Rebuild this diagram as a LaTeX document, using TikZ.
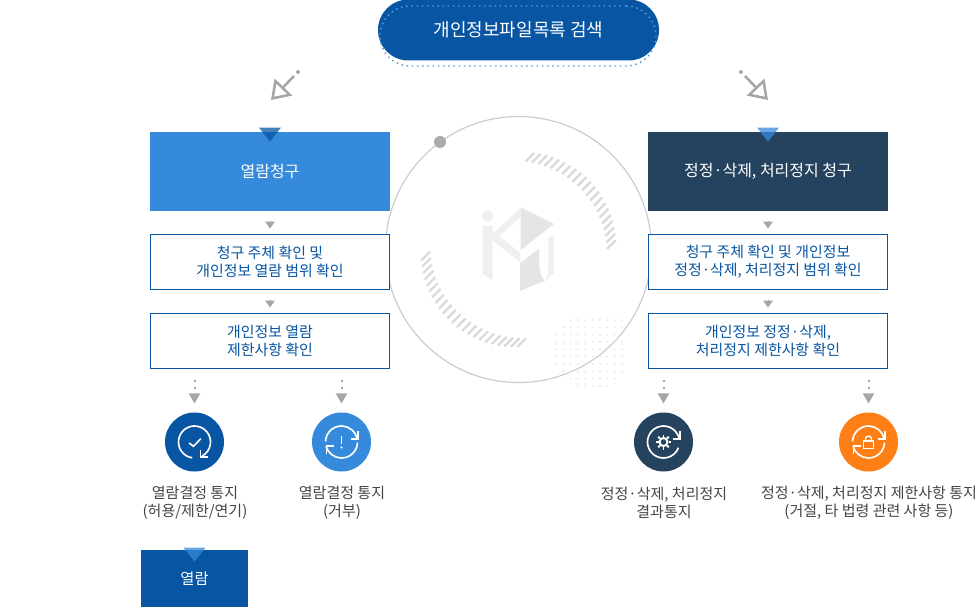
\documentclass[tikz,border=0pt]{standalone}
\usepackage{fontspec}
\setmainfont{Noto Sans CJK KR}
\usetikzlibrary{arrows.meta,positioning,shapes.geometric}
\definecolor{navy}{HTML}{25435F}
\definecolor{sky}{HTML}{358ADB}
\definecolor{royal}{HTML}{0855A3}
\definecolor{tangerine}{HTML}{FF7F17}
\definecolor{tipgray}{HTML}{A6A6A6}
\definecolor{labelgray}{HTML}{444444}
\definecolor{hatchgray}{HTML}{DADADA}

\begin{document}
\begin{tikzpicture}[x=.75pt,y=.75pt,font=\fontsize{11.2pt}{13.5pt}\selectfont,
                    node distance=59.25pt,inner sep=0pt,outer sep=0pt]
  \tikzstyle{reqbox}=[minimum width=180pt,minimum height=59.25pt,text=white,align=center,
                      font=\fontsize{12pt}{14pt}\selectfont]
  \tikzstyle{stepbox}=[draw=royal,line width=.75pt,fill=white,minimum width=179.25pt,
                       minimum height=41.25pt,text=royal,align=center]
  \tikzstyle{roundmark}=[circle,minimum size=44.25pt]
  \tikzstyle{notelabel}=[text=labelgray,align=center,font=\fontsize{11.25pt}{13.5pt}\selectfont]
  \tikzstyle{steptip}=[draw=tipgray,line width=0pt,shorten <=8.25pt,shorten >=4.5pt,
                       -{Triangle[length=5.25pt,width=7.5pt,fill=tipgray]}]
  \tikzstyle{dotstem}=[draw=tipgray,line width=1.5pt,dash pattern=on 1.5pt off 3.75pt,
                       shorten >=6.75pt,-{Triangle[length=7.5pt,width=8.25pt,fill=tipgray]}]
  \tikzstyle{diagarrow}=[draw=tipgray,line width=1.9pt,
                         -{Triangle[open,length=13.5pt,width=18pt]}]
  \tikzstyle{diagdot}=[circle,fill=tipgray,minimum size=3pt]
  \tikzstyle{headmark}=[isosceles triangle,isosceles triangle apex angle=76,shape border rotate=-90,
                        minimum height=10.5pt,opacity=.75]
  \tikzstyle{iconline}=[draw=white,line width=1.25pt]
  \tikzstyle{hatchline}=[hatchgray,line width=1.7pt]

  \useasboundingbox (0,0) rectangle (977,607);

  % rear ring with its marks
  \node[circle,draw=black!20,line width=.9pt,minimum size=199.5pt] (ring) at (518.5,357.5) {};
  \node[circle,fill=black!33,minimum size=9pt] (ringdot) at (440,465) {};
  \begin{scope}[shift={(ring.center)}]
    \foreach \a in {3,7,...,86}
      \draw[hatchline] (\a:93) ++(-4.3,-4.3) -- ++(8.6,8.6);
    \foreach \a in {184,188,...,272}
      \draw[hatchline] (\a:93) ++(-4.3,-4.3) -- ++(8.6,8.6);
  \end{scope}
  \foreach \i in {0,...,9}
    \foreach \j in {0,...,9} {
      \ifnum\numexpr\i+\j\relax<2 \else
      \ifnum\numexpr\i+9-\j\relax<3 \else
      \ifnum\numexpr9-\i+9-\j\relax<2 \else
        \fill[black!10] (556+\i*7.33,287-\j*7.33) circle (1);
      \fi\fi\fi
    }

  % logo
  \begin{scope}[shift={(380,497)},x=.25pt,y=-.25pt]
    \fill[black!6] (323,318) circle (17);
    \fill[black!6] (308,348) -- (338,348) -- (338,512) -- (308,492) -- cycle;
    \fill[black!6] (338,372) -- (422,292) -- (422,322) -- (358,378) -- (422,430) -- (422,458) -- (338,392) -- cycle;
    \fill[black!10] (422,292) -- (522,342) -- (422,420) -- cycle;
    \fill[black!10] (420,460) -- (478,415) -- (478,470) .. controls (478,490) and (490,505) .. (495,512) -- (420,543) -- cycle;
    \fill[black!6] (505,385) -- (522,375) -- (522,490) -- (497,512) .. controls (503,495) and (505,490) .. (505,470) -- cycle;
  \end{scope}

  % search pill
  \node[fill=royal,minimum width=210.75pt,minimum height=45.75pt,rounded corners=22.8pt,
        text=white,font=\fontsize{13.5pt}{16pt}\selectfont] (search) at (518.5,577) {개인정보파일목록 검색};
  \node[draw=sky!85,line width=1.1pt,dash pattern=on 1.1pt off 2.8pt,minimum width=207pt,
        minimum height=45pt,rounded corners=22.5pt] (searchdots) at (518,571) {};

  % left column
  \node[reqbox,fill=sky] (lreq) at (270,435.5) {열람청구};
  \node[stepbox] (lcheck) [below of=lreq,node distance=67.9pt] {청구 주체 확인 및\\개인정보 열람 범위 확인};
  \node[stepbox] (llimit) [below of=lcheck] {개인정보 열람\\제한사항 확인};

  % right column
  \node[reqbox,fill=navy] (rreq) [right of=lreq,node distance=373.5pt] {정정·삭제, 처리정지 청구};
  \node[stepbox] (rcheck) [below of=rreq,node distance=67.9pt] {청구 주체 확인 및 개인정보\\정정·삭제, 처리정지 범위 확인};
  \node[stepbox] (rlimit) [below of=rcheck] {개인정보 정정·삭제,\\처리정지 제한사항 확인};

  % round marks and their notes
  \node[roundmark,fill=royal] (okmark) at (194.5,165) {};
  \node[roundmark,fill=sky] (denymark) [right of=okmark,node distance=110.25pt] {};
  \node[roundmark,fill=navy] (gearmark) at (663.5,165) {};
  \node[roundmark,fill=tangerine] (lockmark) [right of=gearmark,node distance=153.75pt] {};
  \node[notelabel] (oknote) at (195,104) {열람결정 통지\\(허용/제한/연기)};
  \node[notelabel] (denynote) at (342,104) {열람결정 통지\\(거부)};
  \node[notelabel] (gearnote) at (664,104) {정정·삭제, 처리정지\\결과통지};
  \node[notelabel] (locknote) at (869,104) {정정·삭제, 처리정지 제한사항 통지\\(거절, 타 법령 관련 사항 등)};
  \node[fill=royal,minimum width=80.25pt,minimum height=42.75pt,text=white,
        font=\fontsize{11.5pt}{14pt}\selectfont] (open) at (194.5,28.5) {열람};

  % blue heads on the boxes
  \node[headmark,fill=royal] (lhead) at (270,474) {};
  \node[headmark,fill=sky] (rhead) at (768,474) {};
  \node[headmark,fill=sky] (ohead) at (194.5,54) {};

  % connectors
  \draw[steptip] (lreq) -- (lcheck);
  \draw[steptip] (lcheck) -- (llimit);
  \draw[steptip] (rreq) -- (rcheck);
  \draw[steptip] (rcheck) -- (rlimit);

  \coordinate (okstart) at (194.5,227);
  \coordinate (denystart) at (341.5,227);
  \coordinate (gearstart) at (663.5,227);
  \coordinate (lockstart) at (868.5,227);
  \draw[dotstem] (okstart) -- (okmark);
  \draw[dotstem] (denystart) -- (denymark);
  \draw[dotstem] (gearstart) -- (gearmark);
  \draw[dotstem] (lockstart) -- (lockmark);

  \node[diagdot] (ldot) at (298,535) {};
  \node[diagdot] (rdot) at (741,535) {};
  \coordinate (lfrom) at (294,531);
  \coordinate (lto) at (271,507);
  \coordinate (rfrom) at (745,531);
  \coordinate (rto) at (768,507);
  \draw[diagarrow] (lfrom) -- (lto);
  \draw[diagarrow] (rfrom) -- (rto);

  % icons
  \begin{scope}[shift={(okmark)}]
    \draw[iconline] (262:16) arc[start angle=262,delta angle=-324,radius=16];
    \draw[iconline] (6,-7.5) -- (6,-15) -- (13,-15);
    \draw[iconline] (-5.3,-1) -- (-1,-4.3) -- (6.3,3.3);
  \end{scope}
  \foreach \m in {denymark,lockmark} {
    \begin{scope}[shift={(\m)}]
      \draw[iconline] (178:16) arc[start angle=178,end angle=12,radius=16];
      \draw[iconline] (9.3,3.3) -- (16.7,3.3) -- (16.7,10.6);
      \draw[iconline] (-2:16) arc[start angle=-2,end angle=-165,radius=16];
      \draw[iconline] (-7.5,-4.3) -- (-15,-4.3) -- (-15,-11.6);
    \end{scope}
  }
  \begin{scope}[shift={(denymark)}]
    \draw[iconline,line width=1.3pt] (0,6) -- (0,-2);
    \fill[white] (0,-5.5) circle (1.2);
  \end{scope}
  \begin{scope}[shift={(gearmark)}]
    \draw[iconline] (12:16) arc[start angle=12,end angle=339,radius=16];
    \draw[iconline] (9.3,3.3) -- (16.7,3.3) -- (16.7,10.6);
    \draw[iconline,line width=1.5pt] (0,0) circle (4);
    \foreach \a in {0,45,...,315}
      \draw[iconline,line width=1.4pt] (\a:5) -- (\a:7.5);
  \end{scope}
  \begin{scope}[shift={(lockmark)}]
    \draw[iconline,line width=1pt] (-5,-6.5) rectangle (5,1);
    \draw[iconline,line width=1pt] (-3,1) -- (-3,3) arc[start angle=180,end angle=0,radius=3] -- (3,1);
  \end{scope}
\end{tikzpicture}
\end{document}
